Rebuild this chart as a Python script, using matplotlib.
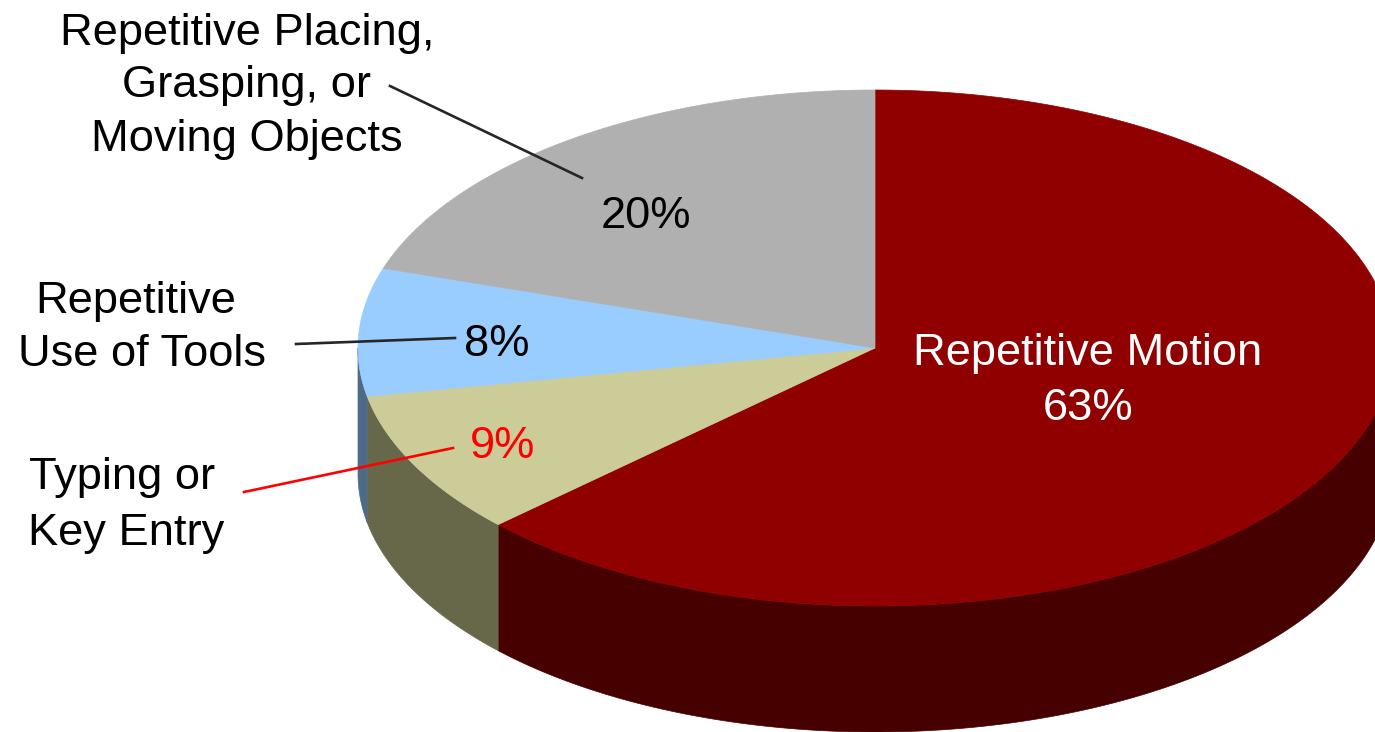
import numpy as np
import matplotlib
matplotlib.use('Agg')
import matplotlib.pyplot as plt

# Shares of the pie, clockwise from 12 o'clock
names = ['Repetitive Motion', 'Typing or\nKey Entry', 'Repetitive\nUse of Tools',
         'Repetitive Placing,\nGrasping, or\nMoving Objects']
values = [63, 9, 8, 20]
top_colors = ['#900000', '#CCCC99', '#99CCFF', '#B0B0B0']
side_colors = ['#470000', '#67674A', '#4D6A87', '#585858']
pct_colors = ['white', 'red', 'black', 'black']

W, H = 1375, 732
cx, cy = 875, 348
rx, ry = 517, 258
depth = 126

plt.rcParams['font.family'] = ['Liberation Sans', 'DejaVu Sans']
fs = 32.6

fig = plt.figure(figsize=(W / 100, H / 100), dpi=100)
ax = fig.add_axes([0, 0, 1, 1])
ax.set_xlim(0, W)
ax.set_ylim(H, 0)
ax.axis('off')


def rim(a0, a1, n=200):
    t = np.radians(np.linspace(a0, a1, n))
    return cx + rx * np.sin(t), cy - ry * np.cos(t)


edges = np.cumsum([0] + values) * 3.6

# Outer wall, only the front half of the disc is visible
for i in range(len(values)):
    a0, a1 = max(edges[i], 90), min(edges[i + 1], 270)
    if a1 <= a0:
        continue
    x, y = rim(a0, a1)
    ax.fill(np.r_[x, x[::-1]], np.r_[y, y[::-1] + depth],
            color=side_colors[i], lw=0.5, zorder=1)

# Top face
for i in range(len(values)):
    x, y = rim(edges[i], edges[i + 1])
    ax.fill(np.r_[cx, x], np.r_[cy, y], color=top_colors[i], lw=0.5, zorder=2)

# Leader lines
ax.plot([390, 582], [86, 178], color='#262626', lw=1.9, zorder=3)
ax.plot([296, 455], [344, 338], color='#262626', lw=1.9, zorder=3)
ax.plot([244, 453], [492, 448], color='red', lw=1.9, zorder=3)

# Category labels, placed line by line
ax.text(1088, 354, names[0], color='white', fontsize=fs, ha='center', va='center', zorder=4)
label_lines = names[1].split('\n') + names[2].split('\n') + names[3].split('\n')
line_pos = [(122, 478), (126, 533), (136, 301), (142, 355),
            (247, 34), (247, 86), (247, 140)]
for line, (px, py) in zip(label_lines, line_pos):
    ax.text(px, py, line, color='black', fontsize=fs, ha='center', va='center', zorder=4)

# Percent labels
pct_pos = [(1088, 408), (503, 446), (497, 344), (646, 216)]
for v, c, (px, py) in zip(values, pct_colors, pct_pos):
    ax.text(px, py, f'{v}%', color=c, fontsize=fs, ha='center', va='center', zorder=4)

fig.savefig('out.png', dpi=100, facecolor='white')
